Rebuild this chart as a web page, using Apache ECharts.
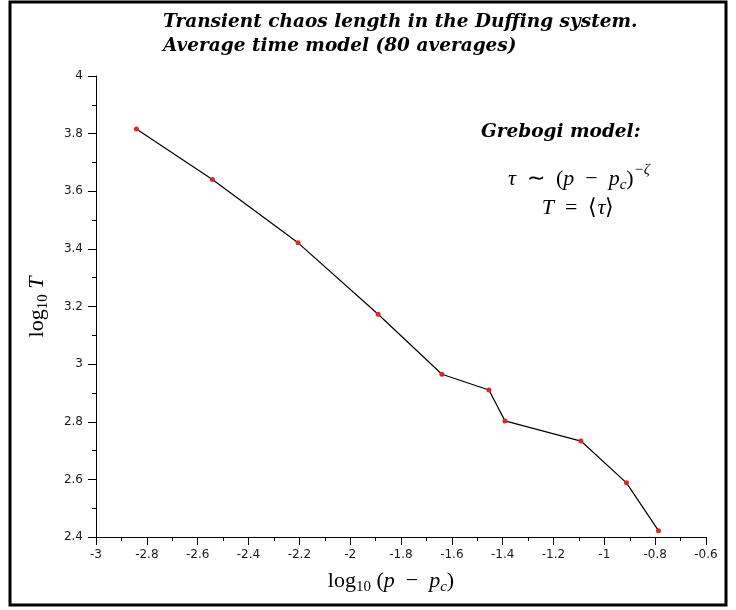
<!DOCTYPE html>
<html>
<head>
<meta charset="utf-8">
<script src="https://cdn.jsdelivr.net/npm/echarts@6/dist/echarts.min.js"></script>
<style>
  html, body { margin: 0; padding: 0; background: #fff; }
  #chart { width: 736px; height: 610px; }
</style>
</head>
<body>
<div id="chart"></div>
<script>
// Transient chaos length vs. distance from the critical parameter (log-log)
const logDistance = [-2.841, -2.542, -2.205, -1.890, -1.639, -1.454, -1.391, -1.092, -0.913, -0.787];
const logMeanTime = [3.816, 3.641, 3.421, 3.173, 2.965, 2.910, 2.803, 2.733, 2.588, 2.422];

const titleLines = [
  'Transient chaos length in the Duffing system.',
  'Average time model (80 averages)'
];
const modelHeading = 'Grebogi model:';

const SERIF = "'Liberation Serif'";
const measureCtx = document.createElement('canvas').getContext('2d');

function pieceFont(p) {
  return (p.italic ? 'italic ' : '') + p.size + 'px ' + SERIF;
}

// Lay out a short formula from pieces (with sub/superscript offsets), centred on (cx, cy)
function formula(pieces, cx, cy, rotation) {
  const widths = pieces.map(p => { measureCtx.font = pieceFont(p); return measureCtx.measureText(p.t).width; });
  const total = widths.reduce((a, b) => a + b, 0);
  let x = -total / 2;
  const children = pieces.map((p, i) => {
    const el = {
      type: 'text', x: x, y: p.dy || 0,
      style: { text: p.t, font: pieceFont(p), fill: '#000', align: 'left', verticalAlign: 'middle' }
    };
    x += widths[i];
    return el;
  });
  return { type: 'group', x: cx, y: cy, rotation: rotation || 0, children };
}

const EN = '\u2002';
const M = 22, S = 15;
const formulaTau = [
  { t: 'τ', size: M, italic: true },
  { t: EN + '∼' + EN + '(', size: M },
  { t: 'p', size: M, italic: true },
  { t: EN + '−' + EN, size: M },
  { t: 'p', size: M, italic: true },
  { t: 'c', size: S, italic: true, dy: 6 },
  { t: ')', size: M },
  { t: '−ζ', size: S, italic: true, dy: -9 }
];
const formulaT = [
  { t: 'T', size: M, italic: true },
  { t: EN + '=' + EN + '⟨', size: M },
  { t: 'τ', size: M, italic: true },
  { t: '⟩', size: M }
];
const xName = [
  { t: 'log', size: M },
  { t: '10', size: S, dy: 6 },
  { t: ' (', size: M },
  { t: 'p', size: M, italic: true },
  { t: EN + '−' + EN, size: M },
  { t: 'p', size: M, italic: true },
  { t: 'c', size: S, italic: true, dy: 6 },
  { t: ')', size: M }
];
const yName = [
  { t: 'log', size: M },
  { t: '10', size: S, dy: 6 },
  { t: ' ', size: M },
  { t: 'T', size: M, italic: true }
];

const tickText = v => String(Math.round(v * 10) / 10);
const axisColor = '#000';
const labelStyle = { color: '#1a1a1a', fontFamily: 'DejaVu Sans', fontSize: 12, formatter: tickText };

const chart = echarts.init(document.getElementById('chart'), null, { renderer: 'canvas' });
chart.setOption({
  backgroundColor: '#fff',
  animation: false,
  title: {
    text: titleLines.join('\n'),
    left: 163,
    top: 10,
    padding: 0,
    textStyle: {
      fontFamily: 'DejaVu Serif', fontStyle: 'italic', fontWeight: 'bold',
      fontSize: 18.5, lineHeight: 24, color: '#000'
    }
  },
  grid: { left: 96, right: 30, top: 76, bottom: 73 },
  xAxis: {
    type: 'value', min: -3, max: -0.6, interval: 0.2,
    axisLine: { show: true, onZero: false, lineStyle: { color: axisColor, width: 1 } },
    axisTick: { show: true, length: 8, lineStyle: { color: axisColor } },
    minorTick: { show: true, splitNumber: 2, length: 4, lineStyle: { color: axisColor } },
    splitLine: { show: false },
    axisLabel: Object.assign({ margin: 12 }, labelStyle)
  },
  yAxis: {
    type: 'value', min: 2.4, max: 4, interval: 0.2,
    axisLine: { show: true, onZero: false, lineStyle: { color: axisColor, width: 1 } },
    axisTick: { show: true, length: 8, lineStyle: { color: axisColor } },
    minorTick: { show: true, splitNumber: 2, length: 4, lineStyle: { color: axisColor } },
    splitLine: { show: false },
    axisLabel: Object.assign({ margin: 13 }, labelStyle)
  },
  series: [{
    type: 'line',
    data: logDistance.map((x, i) => [x, logMeanTime[i]]),
    lineStyle: { color: '#000', width: 1.2 },
    symbol: 'circle',
    symbolSize: 5,
    itemStyle: { color: '#e8231f' },
    emphasis: { disabled: true }
  }],
  graphic: [
    {
      type: 'rect', silent: true,
      shape: { x: 10, y: 2, width: 716, height: 603 },
      style: { fill: 'none', stroke: '#000', lineWidth: 3 }
    },
    {
      type: 'text', x: 481, y: 132,
      style: {
        text: modelHeading, fill: '#000', align: 'left', verticalAlign: 'middle',
        font: "italic bold 18.5px 'DejaVu Serif'"
      }
    },
    formula(formulaTau, 579, 179),
    formula(formulaT, 578, 208),
    formula(xName, 391, 581),
    formula(yName, 37, 307, Math.PI / 2)
  ]
});
</script>
</body>
</html>
